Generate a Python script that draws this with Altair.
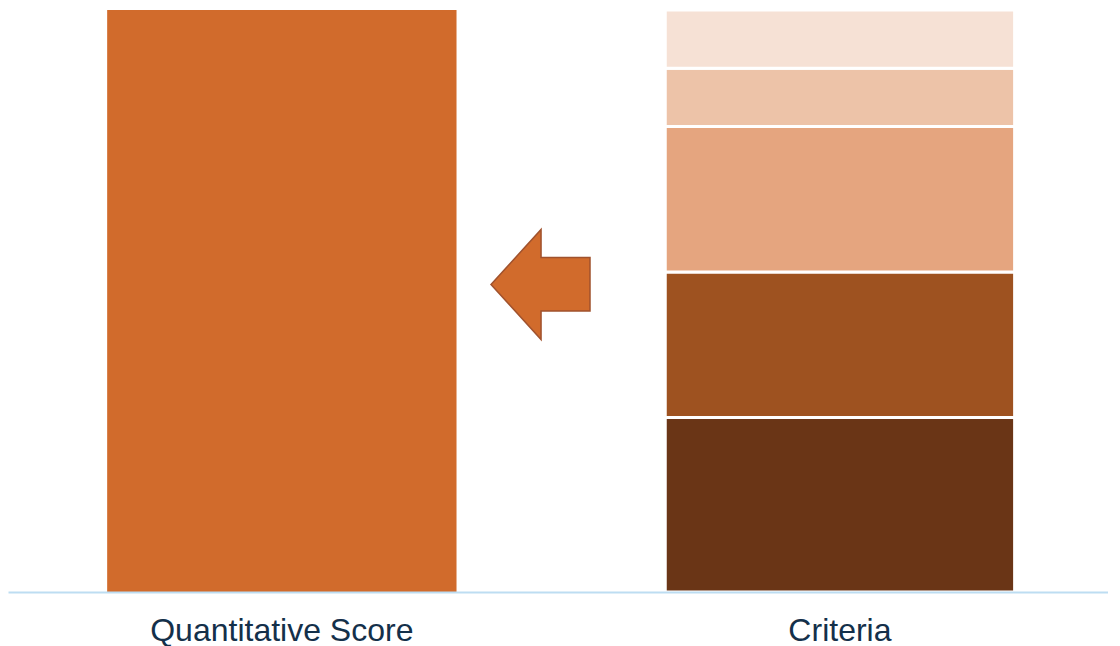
import altair as alt
import pandas as pd

# ---- data ----
categories = ["Quantitative Score", "Criteria"]
score_values = [100]
criteria_segments = ["Criterion 1", "Criterion 2", "Criterion 3", "Criterion 4", "Criterion 5"]  # bottom -> top
criteria_values = [30, 25, 25, 10, 10]
criteria_colors = ["#6A3516", "#9E5220", "#E5A57F", "#EDC3A8", "#F6E1D5"]
score_color = "#D16B2C"
arrow_stroke = "#A0522D"

score_df = pd.DataFrame({"category": [categories[0]], "segment": ["Score"], "value": score_values, "rank": [0]})
crit_df = pd.DataFrame({
    "category": [categories[1]] * len(criteria_values),
    "segment": criteria_segments,
    "value": criteria_values,
    "rank": list(range(1, len(criteria_values) + 1)),
})

W, H = 1100, 582

x_enc = alt.X(
    "category:N",
    sort=categories,
    scale=alt.Scale(domain=categories, paddingInner=0.374, paddingOuter=0.1725, align=0.515),
    axis=alt.Axis(
        title=None, labelAngle=0, ticks=False, tickSize=0, grid=False,
        domainColor="#BDDDF2", domainWidth=2, zindex=1,
        labelFont="Liberation Sans", labelFontSize=32, labelColor="#14304A",
        labelPadding=23, labelLimit=0,
    ),
)
y_enc = alt.Y("value:Q", stack="zero", scale=alt.Scale(domain=[0, 100], nice=False, zero=True), axis=None)

score_bar = alt.Chart(score_df).mark_bar(color=score_color).encode(x=x_enc, y=y_enc)

crit_bar = alt.Chart(crit_df).mark_bar(stroke="white", strokeWidth=3).encode(
    x=x_enc,
    y=y_enc,
    color=alt.Color("segment:N", scale=alt.Scale(domain=criteria_segments, range=criteria_colors), legend=None),
    order=alt.Order("rank:Q", sort="ascending"),
)

arrow_path = "M -0.9 0 L 0.01 -1 L 0.01 -0.49 L 0.9 -0.49 L 0.9 0.48 L 0.01 0.48 L 0.01 1 Z"
arrow = alt.Chart(pd.DataFrame({"a": [0]})).mark_point(
    shape=arrow_path, size=12100, filled=True, fill=score_color, stroke=arrow_stroke,
    strokeWidth=1.5, opacity=1, fillOpacity=1, strokeOpacity=1,
).encode(x=alt.value(532.5), y=alt.value(274.5))

chart = (
    alt.layer(score_bar, crit_bar, arrow)
    .properties(width=W, height=H, padding=0, background="white")
    .configure_view(stroke=None)
)

chart.save("out.html", embed_options={"renderer": "svg", "actions": False})
